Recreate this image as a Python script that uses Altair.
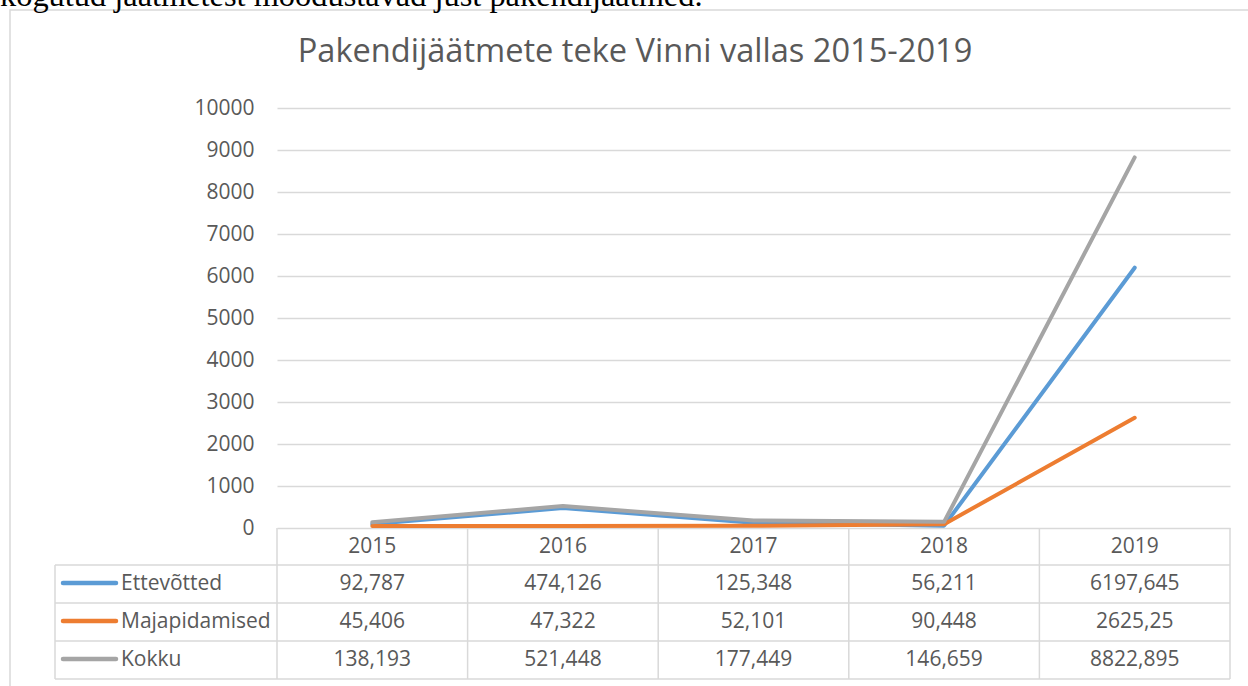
import altair as alt
import pandas as pd

years = ["2015", "2016", "2017", "2018", "2019"]
series = ["Ettevõtted", "Majapidamised", "Kokku"]
ettevotted = [92.787, 474.126, 125.348, 56.211, 6197.645]
majapidamised = [45.406, 47.322, 52.101, 90.448, 2625.25]
kokku = [138.193, 521.448, 177.449, 146.659, 8822.895]
ett_labels = ["92,787", "474,126", "125,348", "56,211", "6197,645"]
maj_labels = ["45,406", "47,322", "52,101", "90,448", "2625,25"]
kok_labels = ["138,193", "521,448", "177,449", "146,659", "8822,895"]
y_ticks = [0, 1000, 2000, 3000, 4000, 5000, 6000, 7000, 8000, 9000, 10000]
title_text = "Pakendijäätmete teke Vinni vallas 2015-2019"
doc_text = "kogutud jäätmetest moodustavad just pakendijäätmed."

colors = ["#5B9BD5", "#ED7D31", "#A5A5A5"]
FONT = "Open Sans"
TXT = "#595959"
GRID = "#d9d9d9"

values = [ettevotted, majapidamised, kokku]
labels = [ett_labels, maj_labels, kok_labels]
rows = []
for s, vals, labs in zip(series, values, labels):
    for y, v, l in zip(years, vals, labs):
        rows.append({"year": y, "series": s, "value": v, "label": l})
df = pd.DataFrame(rows)
years_df = pd.DataFrame({"year": years})
one = pd.DataFrame({"a": [0]})

W, H = 953, 420
xscale = alt.Scale(type="band", domain=years, paddingInner=0, paddingOuter=0)


def X(band):
    return alt.X("year:O", scale=xscale, axis=None, bandPosition=band)


lines = alt.Chart(df).mark_line(strokeWidth=4, strokeCap="round", strokeJoin="round").encode(
    x=X(0.5),
    y=alt.Y("value:Q", scale=alt.Scale(domain=[0, 10000], nice=False),
            axis=alt.Axis(values=y_ticks, format="d", title=None, domain=False, ticks=False,
                          labelFont=FONT, labelFontSize=21, labelColor=TXT, labelPadding=23,
                          labelOverlap=False, gridColor=GRID, gridWidth=1.3)),
    color=alt.Color("series:N", scale=alt.Scale(domain=series, range=colors), legend=None),
)

# table grid
row_tops = [457, 495, 533, 571]
hlines = [
    alt.Chart(one).mark_rule(color=GRID, strokeWidth=1.5).encode(
        x=alt.value(-222), x2=alt.value(W), y=alt.value(yy))
    for yy in row_tops
]
vlines = alt.Chart(years_df).mark_rule(color=GRID, strokeWidth=1.5).encode(
    x=X(0), y=alt.value(420), y2=alt.value(571))
vright = alt.Chart(one).mark_rule(color=GRID, strokeWidth=1.5).encode(
    x=alt.value(W), y=alt.value(420), y2=alt.value(571))
vleft = alt.Chart(one).mark_rule(color=GRID, strokeWidth=1.5).encode(
    x=alt.value(-222), y=alt.value(457), y2=alt.value(571))

header = alt.Chart(years_df).mark_text(font=FONT, fontSize=21, color=TXT, baseline="middle").encode(
    x=X(0.5), y=alt.value(438.5), text="year:N")

row_centers = [476, 514, 552]
cells = []
for s, c, yc in zip(series, colors, row_centers):
    cells.append(alt.Chart(df).transform_filter(alt.datum.series == s).mark_text(
        font=FONT, fontSize=21, color=TXT, baseline="middle").encode(
        x=X(0.5), y=alt.value(yc), text="label:N"))
    cells.append(alt.Chart(one).mark_rule(color=c, strokeWidth=4.5, strokeCap="round").encode(
        x=alt.value(-214), x2=alt.value(-161), y=alt.value(yc - 1)))
    cells.append(alt.Chart(pd.DataFrame({"s": [s]})).mark_text(
        font=FONT, fontSize=21, color=TXT, baseline="middle", align="left").encode(
        x=alt.value(-156), y=alt.value(yc), text="s:N"))

border = alt.Chart(one).mark_rect(fillOpacity=0, stroke=GRID, strokeWidth=1.5).encode(
    x=alt.value(-267), x2=alt.value(1100), y=alt.value(-98), y2=alt.value(700))

title = alt.Chart(pd.DataFrame({"t": [title_text]})).mark_text(
    font=FONT, fontSize=32.6, color=TXT, baseline="middle", align="center").encode(
    x=alt.value(358), y=alt.value(-56), text="t:N")

doc = alt.Chart(pd.DataFrame({"t": [doc_text]})).mark_text(
    font="Liberation Serif", fontSize=32.4, color="#000000", baseline="alphabetic", align="left").encode(
    x=alt.value(-277), y=alt.value(-102), text="t:N")

chart = alt.layer(
    lines, border, doc, title, *hlines, vlines, vright, vleft, header, *cells
).properties(
    width=W, height=H,
    autosize=alt.AutoSizeParams(type="none"),
    padding={"left": 277, "top": 108, "right": 18, "bottom": 158},
).configure_view(strokeWidth=0)

chart.save("out.html", embed_options={"renderer": "svg", "actions": False})
